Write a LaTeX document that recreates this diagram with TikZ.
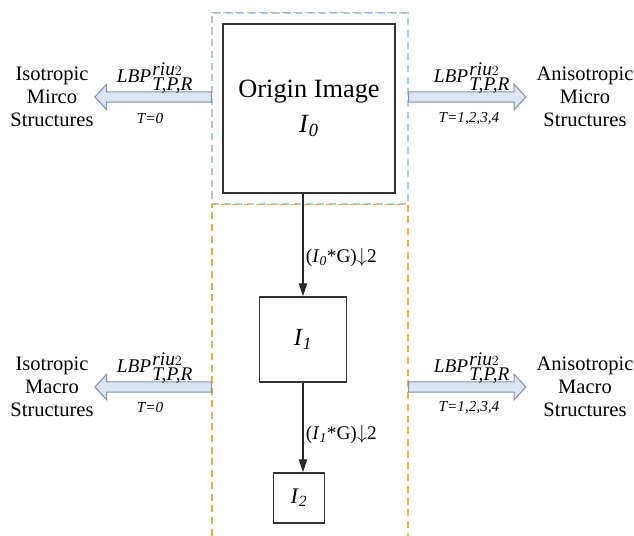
\documentclass[tikz,border=0pt]{standalone}
\usepackage{fontspec}
\setmainfont{Liberation Serif}
\usetikzlibrary{calc,arrows.meta,positioning}
\definecolor{zoneBlue}{HTML}{A9CCEE}
\definecolor{zoneGray}{HTML}{B4B4B4}
\definecolor{zoneOrange}{HTML}{F6A938}
\definecolor{arrowFill}{HTML}{DCE6F2}
\definecolor{arrowLine}{HTML}{8093AB}
\newcommand{\lbpop}{\textit{LBP}\kern1pt$^{\textit{riu}2}_{\textit{T,P,R}}$}
\newcommand{\img}[1]{\textit{I}\textsubscript{\textit{#1}}}

\tikzset{
  zone/.style={draw, dash pattern=on 6pt off 4pt, line width=1.1pt},
  imgbox/.style={draw=black!80, line width=1.2pt, inner sep=0pt, align=center},
  sidetext/.style={align=center, inner sep=0pt, font=\fontsize{17.5}{19.5}\selectfont},
  lbptext/.style={inner sep=0pt, font=\fontsize{16.5}{18}\selectfont},
  ttext/.style={inner sep=0pt, font=\fontsize{13}{15}\selectfont\itshape},
  steplabel/.style={inner sep=0pt, font=\fontsize{16.5}{18}\selectfont},
  downarrow/.style={draw=black!85, line width=0.9pt, -{Triangle[length=11pt,width=7pt]}},
  blockarrow/.style={fill=arrowFill, draw=arrowLine, line width=0.9pt,
    to path={let \p1=(\tikztostart), \p2=(\tikztotarget),
      \p3=($(\tikztotarget)!10pt!(\tikztostart)$) in
      (\x1,\y1+4.3pt) -- (\x3,\y1+4.3pt) -- (\x3,\y1+11pt) -- (\x2,\y1)
      -- (\x3,\y1-11pt) -- (\x3,\y1-4.3pt) -- (\x1,\y1-4.3pt) -- cycle}},
}

\begin{document}
\begin{tikzpicture}[x=0.03cm, y=-0.03cm]
  \useasboundingbox (0,0) rectangle (634,536);

  % dashed zones
  \node[zone, draw=zoneBlue, minimum width=5.88cm, minimum height=5.73cm] (microzone) at (310,108.5) {};
  \draw[zone, draw=zoneGray] (microzone.north west) -- (microzone.north east);
  \node[zone, draw=zoneOrange, minimum width=5.88cm, minimum height=10.5cm, anchor=north] (macrozone) at (310,204) {};

  % image pyramid
  \node[imgbox, minimum width=5.16cm, minimum height=5.07cm, font=\fontsize{22.5}{30}\selectfont] (origin) at (309,108.5) {Origin Image\\\img{0}};
  \node[imgbox, minimum width=2.61cm, minimum height=2.55cm, font=\fontsize{21}{24}\selectfont] (img1) at (303,339.5) {\img{1}};
  \node[imgbox, minimum width=1.53cm, minimum height=1.5cm, font=\fontsize{19}{22}\selectfont] (img2) at (299,498) {\img{2}};

  \draw[downarrow] (img1.north |- origin.south) -- (img1.north)
    node[steplabel, pos=0.62, right=2pt] {(\img{0}*G)$\downarrow$2};
  \draw[downarrow] (img1.south) -- (img1.south |- img2.north)
    node[steplabel, pos=0.58, right=2pt] {(\img{1}*G)$\downarrow$2};

  % structures
  \node[sidetext] (isomicro) at (52,97) {Isotropic\\Mirco\\Structures};
  \node[sidetext] (anisomicro) at (585,97) {Anisotropic\\Micro\\Structures};
  \node[sidetext] (isomacro) at (52,387) {Isotropic\\Macro\\Structures};
  \node[sidetext] (anisomacro) at (585,387) {Anisotropic\\Macro\\Structures};

  \draw[blockarrow] (microzone.west |- isomicro) to ([xshift=1pt]isomicro.east);
  \draw[blockarrow] (microzone.east |- anisomicro) to ([xshift=-9pt]anisomicro.west);
  \draw[blockarrow] (macrozone.west |- isomacro) to ([xshift=1pt]isomacro.east);
  \draw[blockarrow] (macrozone.east |- anisomacro) to ([xshift=-9pt]anisomacro.west);

  \node[lbptext] (lbp1) at (155,78) {\lbpop};
  \node[ttext] (t1) at (150,119) {T=0};
  \node[lbptext] (lbp2) at (472,78) {\lbpop};
  \node[ttext] (t2) at (469,119) {T=1,2,3,4};
  \node[lbptext] (lbp3) at (155,368) {\lbpop};
  \node[ttext] (t3) at (150,408) {T=0};
  \node[lbptext] (lbp4) at (472,368) {\lbpop};
  \node[ttext] (t4) at (469,408) {T=1,2,3,4};
\end{tikzpicture}
\end{document}
